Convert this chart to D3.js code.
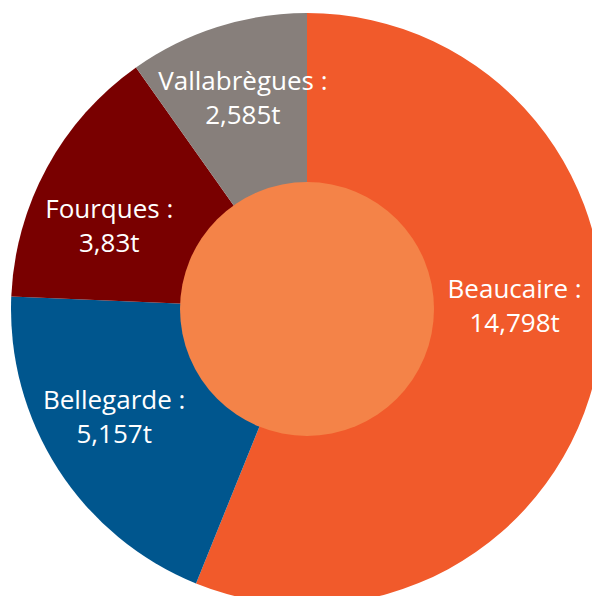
<!DOCTYPE html>
<html>
<head>
<meta charset="utf-8">
<script src="https://cdn.jsdelivr.net/npm/d3@7"></script>
<style>
  body { margin: 0; background: #fff; }
  svg { display: block; }
</style>
</head>
<body>
<svg id="chart"></svg>
<script>
// data
var communes = ["Beaucaire", "Bellegarde", "Fourques", "Vallabrègues"];
var tonnes   = [14.798, 5.157, 3.83, 2.585];
var valueLabels = ["14,798t", "5,157t", "3,83t", "2,585t"];
var colors   = ["#F15A2B", "#00568E", "#790000", "#877F7B"];

var width = 592,
    height = 596;

var cx = 307, cy = 309;
var outerR = 296, innerR = 127;
var centerColor = "#F48348";

// nudges so labels sit where the original has them
var labelShift = [[0, -51], [-15, -15], [-12, 10], [0, -17]];

var svg = d3.select("#chart")
  .attr("width", width)
  .attr("height", height);

var g = svg.append("g")
  .attr("transform", "translate(" + cx + "," + cy + ")");

var data = communes.map(function(c, i) {
  return { name: c, value: tonnes[i], label: valueLabels[i], color: colors[i], i: i };
});

var pie = d3.pie()
  .sort(null)
  .value(function(d) { return d.value; });

var arc = d3.arc()
  .innerRadius(0)
  .outerRadius(outerR);

var labelArc = d3.arc()
  .innerRadius(innerR)
  .outerRadius(outerR);

var arcs = pie(data);

g.selectAll("path.slice")
  .data(arcs)
  .enter()
  .append("path")
  .attr("class", "slice")
  .attr("d", arc)
  .attr("fill", function(d) { return d.data.color; });

// the lighter disc in the middle
g.append("circle")
  .attr("r", innerR)
  .attr("fill", centerColor);

var labels = g.selectAll("text.lbl")
  .data(arcs)
  .enter()
  .append("text")
  .attr("class", "lbl")
  .attr("text-anchor", "middle")
  .attr("fill", "#fff")
  .style("font-family", "'Open Sans', sans-serif")
  .style("font-size", "26px")
  .attr("transform", function(d) {
    var c = labelArc.centroid(d);
    var s = labelShift[d.data.i];
    return "translate(" + (c[0] + s[0]) + "," + (c[1] + s[1]) + ")";
  });

labels.append("tspan")
  .attr("x", 0)
  .attr("y", 0)
  .text(function(d) { return d.data.name + " :"; });

labels.append("tspan")
  .attr("x", 0)
  .attr("y", 34)
  .text(function(d) { return d.data.label; });
</script>
</body>
</html>
